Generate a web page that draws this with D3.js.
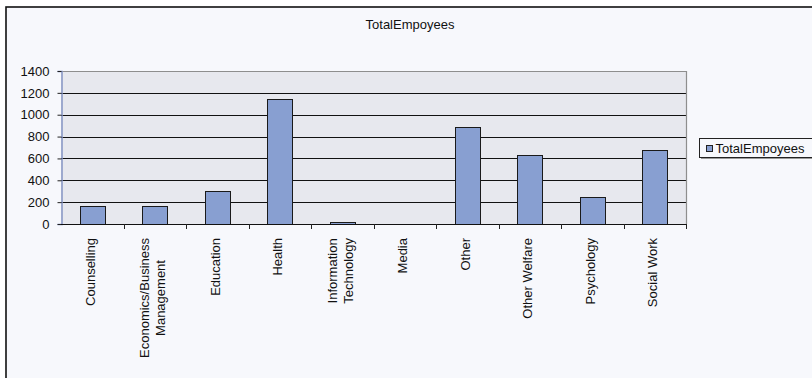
<!DOCTYPE html>
<html>
<head>
<meta charset="utf-8">
<script src="https://cdn.jsdelivr.net/npm/d3@7/dist/d3.min.js"></script>
<style>
  html, body { margin: 0; padding: 0; background: #fff; }
  svg { display: block; font-family: "Liberation Sans", Arial, sans-serif; }
</style>
</head>
<body>
<svg id="chart" width="812" height="378"></svg>
<script>
// Employee totals per field
const categories = [
  "Counselling", "Economics/Business Management", "Education", "Health",
  "Information Technology", "Media", "Other", "Other Welfare",
  "Psychology", "Social Work"
];
// Category labels broken into lines
const categoryLines = [
  ["Counselling"], ["Economics/Business", "Management"], ["Education"], ["Health"],
  ["Information", "Technology"], ["Media"], ["Other"], ["Other Welfare"],
  ["Psychology"], ["Social Work"]
];
const totalEmployees = [165, 165, 305, 1140, 20, 3, 890, 630, 245, 675];
const yTicks = [0, 200, 400, 600, 800, 1000, 1200, 1400];
const seriesName = "TotalEmpoyees";
const chartTitle = "TotalEmpoyees";

const svg = d3.select("#chart");
const barFill = "#889fd1";
const fontSize = 13;

// Chart frame
svg.append("rect")
  .attr("x", 6).attr("y", 7)
  .attr("width", 830).attr("height", 400)
  .attr("fill", "#f7f8fc")
  .attr("stroke", "#111").attr("stroke-width", 1.6);

// Title
svg.append("text")
  .attr("x", 410).attr("y", 29)
  .attr("text-anchor", "middle")
  .attr("font-size", fontSize).attr("fill", "#111")
  .text(chartTitle);

const plot = { left: 61, right: 686, top: 71, bottom: 224 };

const x = d3.scaleBand()
  .domain(categories)
  .range([plot.left, plot.right])
  .paddingInner(0.6)
  .paddingOuter(0.3);

const y = d3.scaleLinear()
  .domain([0, 1400])
  .range([plot.bottom, plot.top]);

// Plot background
svg.append("rect")
  .attr("x", plot.left).attr("y", plot.top)
  .attr("width", plot.right - plot.left).attr("height", plot.bottom - plot.top)
  .attr("fill", "#e7e8ee");

// Horizontal gridlines
svg.append("g")
  .selectAll("line")
  .data(yTicks.filter(d => d > 0 && d < 1400))
  .join("line")
  .attr("x1", plot.left).attr("x2", plot.right)
  .attr("y1", d => Math.round(y(d)) + 0.5)
  .attr("y2", d => Math.round(y(d)) + 0.5)
  .attr("stroke", "#111").attr("stroke-width", 1);

// Top and right frame of the plot area
svg.append("path")
  .attr("d", `M${plot.left},${plot.top + 0.5}H${plot.right + 0.5}V${plot.bottom}`)
  .attr("fill", "none").attr("stroke", "#8e8e8e").attr("stroke-width", 1.2);

// Bars
svg.append("g")
  .selectAll("rect")
  .data(categories)
  .join("rect")
  .attr("x", d => Math.round(x(d)) + 0.5)
  .attr("y", (d, i) => Math.round(y(totalEmployees[i])) + 0.5)
  .attr("width", x.bandwidth())
  .attr("height", (d, i) => Math.max(0, Math.round(y(0)) - Math.round(y(totalEmployees[i]))))
  .attr("fill", barFill)
  .attr("stroke", "#1a1a1a").attr("stroke-width", 1);

// Y axis
const yAxis = d3.axisLeft(y)
  .tickValues(yTicks)
  .tickSize(4)
  .tickPadding(8)
  .tickFormat(d3.format("d"));
const yg = svg.append("g")
  .attr("transform", `translate(${plot.left + 0.5},0)`)
  .call(yAxis);
yg.select(".domain").attr("stroke", "#8594c4").attr("stroke-width", 1.5);
yg.selectAll(".tick line").attr("stroke", "#222");
yg.selectAll(".tick text")
  .attr("font-size", fontSize).attr("font-family", "Liberation Sans, Arial, sans-serif")
  .attr("fill", "#111");

// X axis baseline and category boundary ticks
const step = x.step();
const boundaries = d3.range(1, categories.length + 1).map(i => plot.left + i * step);
svg.append("line")
  .attr("x1", plot.left).attr("x2", plot.right)
  .attr("y1", plot.bottom + 0.5).attr("y2", plot.bottom + 0.5)
  .attr("stroke", "#111").attr("stroke-width", 1.2);
svg.append("g")
  .selectAll("line")
  .data(boundaries)
  .join("line")
  .attr("x1", d => Math.round(d) + 0.5).attr("x2", d => Math.round(d) + 0.5)
  .attr("y1", plot.bottom).attr("y2", plot.bottom + 5)
  .attr("stroke", "#222");

// Rotated category labels, lines centred within the block, block top-aligned
const lineGap = 16;
const labelTop = 238;
const measure = svg.append("text").attr("font-size", fontSize).attr("visibility", "hidden");
const widthOf = s => { measure.text(s); return measure.node().getComputedTextLength(); };

categories.forEach((c, i) => {
  const lines = categoryLines[i];
  const blockW = d3.max(lines, widthOf);
  const cx = x(c) + x.bandwidth() / 2 - 2;
  const n = lines.length;
  lines.forEach((ln, j) => {
    const off = (j - (n - 1) / 2) * lineGap;
    const w = widthOf(ln);
    const endY = labelTop + (blockW - w) / 2;
    svg.append("text")
      .attr("transform", `translate(${cx + off + 4.5},${endY}) rotate(-90)`)
      .attr("text-anchor", "end")
      .attr("font-size", fontSize).attr("fill", "#111")
      .text(ln);
  });
});
measure.remove();

// Legend
const legend = svg.append("g").attr("transform", "translate(699.5,138.5)");
legend.append("rect")
  .attr("x", 1.5).attr("y", 1.5).attr("width", 130).attr("height", 19)
  .attr("fill", "#999");
legend.append("rect")
  .attr("width", 130).attr("height", 19)
  .attr("fill", "#f7f8fc").attr("stroke", "#222").attr("stroke-width", 1);
legend.append("rect")
  .attr("x", 7).attr("y", 7).attr("width", 6).attr("height", 6)
  .attr("fill", barFill).attr("stroke", "#222");
legend.append("text")
  .attr("x", 16).attr("y", 14)
  .attr("font-size", fontSize).attr("fill", "#111")
  .text(seriesName);
</script>
</body>
</html>
